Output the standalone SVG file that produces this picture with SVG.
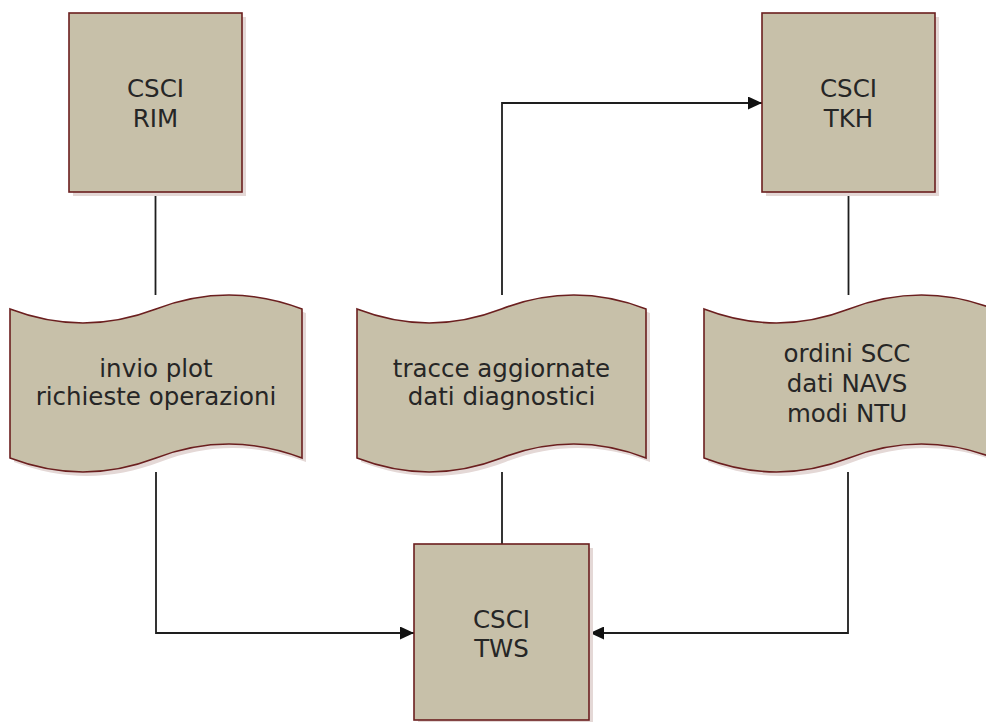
<svg xmlns="http://www.w3.org/2000/svg" width="986" height="722" viewBox="0 0 986 722">
<defs>
<style>
.node{fill:#c7c0a9;stroke:#6b1f1f;stroke-width:1.6}
.shadow{fill:#e4d8d6}
.lbl{font-family:"DejaVu Sans",Verdana,sans-serif;font-size:24.5px;fill:#262626;text-anchor:middle}
.conn{fill:none;stroke:#1e1e1e;stroke-width:1.8}
</style>
<marker id="arrow" markerUnits="userSpaceOnUse" markerWidth="14" markerHeight="13" refX="14" refY="6.5" orient="auto">
<path d="M0,0 L14,6.5 L0,13 Z" fill="#111"/>
</marker>
</defs>
<rect width="986" height="722" fill="#fff"/>
<g id="connectors">
<path class="conn" d="M155.5,192 V295"/>
<path class="conn" d="M156,472 V633 H414" marker-end="url(#arrow)"/>
<path class="conn" d="M502,295 V103 H762" marker-end="url(#arrow)"/>
<path class="conn" d="M502,472 V544"/>
<path class="conn" d="M848.5,192 V295"/>
<path class="conn" d="M848,472 V633 H590" marker-end="url(#arrow)"/>
</g>
<g id="rim">
<rect class="shadow" x="73" y="17" width="173" height="179"/>
<rect class="node" x="69" y="13" width="173" height="179"/>
<text class="lbl" x="155.5" y="97">CSCI</text>
<text class="lbl" x="155.5" y="127">RIM</text>
</g>
<g id="tkh">
<rect class="shadow" x="766" y="17" width="173" height="179"/>
<rect class="node" x="762" y="13" width="173" height="179"/>
<text class="lbl" x="848.5" y="97">CSCI</text>
<text class="lbl" x="848.5" y="127">TKH</text>
</g>
<g id="tws">
<rect class="shadow" x="418" y="548" width="175" height="176"/>
<rect class="node" x="414" y="544" width="175" height="176"/>
<text class="lbl" x="501.5" y="628">CSCI</text>
<text class="lbl" x="501.5" y="657">TWS</text>
</g>
<g id="doc-rim">
<path class="shadow" transform="translate(4,4)" d="M10,309 C58.7,327.6 107.3,327.6 156,309 C204.7,290.4 253.3,290.4 302,309 V458 C253.3,439.4 204.7,439.4 156,458 C107.3,476.6 58.7,476.6 10,458 Z"/>
<path class="node" d="M10,309 C58.7,327.6 107.3,327.6 156,309 C204.7,290.4 253.3,290.4 302,309 V458 C253.3,439.4 204.7,439.4 156,458 C107.3,476.6 58.7,476.6 10,458 Z"/>
<text class="lbl" x="156" y="377">invio plot</text>
<text class="lbl" x="156" y="405">richieste operazioni</text>
</g>
<g id="doc-tkh-out">
<path class="shadow" transform="translate(4,4)" d="M357,309 C405.2,327.6 453.3,327.6 501.5,309 C549.7,290.4 597.8,290.4 646,309 V458 C597.8,439.4 549.7,439.4 501.5,458 C453.3,476.6 405.2,476.6 357,458 Z"/>
<path class="node" d="M357,309 C405.2,327.6 453.3,327.6 501.5,309 C549.7,290.4 597.8,290.4 646,309 V458 C597.8,439.4 549.7,439.4 501.5,458 C453.3,476.6 405.2,476.6 357,458 Z"/>
<text class="lbl" x="501.5" y="377">tracce aggiornate</text>
<text class="lbl" x="501.5" y="405">dati diagnostici</text>
</g>
<g id="doc-tkh-in">
<path class="shadow" transform="translate(4,4)" d="M704,309 C752.3,327.6 800.7,327.6 849,309 C897.3,290.4 945.7,290.4 994,309 V458 C945.7,439.4 897.3,439.4 849,458 C800.7,476.6 752.3,476.6 704,458 Z"/>
<path class="node" d="M704,309 C752.3,327.6 800.7,327.6 849,309 C897.3,290.4 945.7,290.4 994,309 V458 C945.7,439.4 897.3,439.4 849,458 C800.7,476.6 752.3,476.6 704,458 Z"/>
<text class="lbl" x="847" y="362">ordini SCC</text>
<text class="lbl" x="847" y="392">dati NAVS</text>
<text class="lbl" x="847" y="422">modi NTU</text>
</g>
</svg>
